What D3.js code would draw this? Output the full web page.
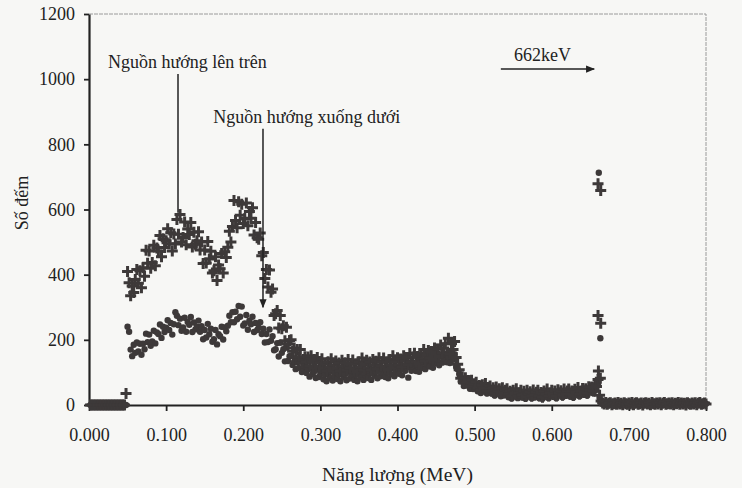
<!DOCTYPE html>
<html>
<head>
<meta charset="utf-8">
<script src="https://cdn.jsdelivr.net/npm/d3@7"></script>
<style>
  body { margin: 0; background: #f7f7f5; }
  svg { display: block; }
  text { font-family: "Liberation Serif", "Times New Roman", serif; fill: #222; }
</style>
</head>
<body>
<div id="chart"></div>
<script>
// channel calibration: channel n (1..400) sits at n * energyStep MeV
const energyStep = 0.002

// source facing up ("+" markers), 10 channels per row = 0.02 MeV
const upCounts = [
  0, 0, 0, 0, 0, 0, 0, 0, 0, 0,                      // 0.002 - 0.020
  0, 0, 0, 0, 0, 0, 0, 0, 0, 0,                      // 0.022 - 0.040
  0, 0, 0, 35, 410, 375, 335, 365, 345, 385,         // 0.042 - 0.060
  416, 374, 412, 360, 421, 395, 475, 435, 473, 420,  // 0.062 - 0.080
  437, 490, 427, 482, 473, 520, 455, 510, 483, 504,  // 0.082 - 0.100
  541, 495, 529, 473, 525, 494, 569, 524, 585, 500,  // 0.102 - 0.120
  514, 562, 492, 540, 523, 560, 485, 530, 493, 504,  // 0.122 - 0.140
  532, 476, 500, 434, 476, 436, 502, 448, 472, 405,  // 0.142 - 0.160
  412, 455, 382, 430, 418, 465, 405, 470, 453, 484,  // 0.162 - 0.180
  533, 500, 548, 628, 566, 544, 624, 582, 616, 557,  // 0.182 - 0.200
  572, 620, 550, 594, 573, 605, 522, 560, 513, 509,  // 0.202 - 0.220
  528, 458, 468, 388, 416, 362, 414, 346, 356, 275,  // 0.222 - 0.240
  280, 290, 236, 275, 234, 243, 197, 239, 187, 198,  // 0.242 - 0.260
  200, 165, 175, 146, 170, 148, 170, 129, 140, 148,  // 0.262 - 0.280
  132, 147, 120, 151, 131, 140, 115, 146, 118, 130,  // 0.282 - 0.300
  142, 112, 127, 104, 133, 116, 142, 106, 122, 135,  // 0.302 - 0.320
  112, 129, 104, 137, 119, 130, 107, 140, 114, 127,  // 0.322 - 0.340
  138, 109, 126, 103, 133, 116, 144, 108, 124, 137,  // 0.342 - 0.360
  114, 132, 107, 140, 123, 134, 111, 145, 119, 132,  // 0.362 - 0.380
  144, 115, 132, 109, 140, 123, 151, 115, 132, 145,  // 0.382 - 0.400
  123, 141, 117, 151, 134, 146, 124, 158, 133, 147,  // 0.402 - 0.420
  159, 131, 149, 127, 158, 142, 170, 135, 152, 167,  // 0.422 - 0.440
  145, 164, 140, 175, 158, 171, 149, 184, 160, 175,  // 0.442 - 0.460
  188, 161, 205, 157, 188, 170, 195, 146, 125, 108,  // 0.462 - 0.480
  82, 87, 68, 84, 70, 75, 59, 76, 59, 65,            // 0.482 - 0.500
  70, 52, 60, 45, 62, 51, 66, 44, 52, 58,            // 0.502 - 0.520
  43, 53, 37, 55, 43, 50, 35, 53, 38, 45,            // 0.522 - 0.540
  50, 33, 42, 28, 45, 35, 50, 29, 37, 45,            // 0.542 - 0.560
  31, 42, 26, 45, 34, 41, 27, 46, 31, 39,            // 0.562 - 0.580
  45, 28, 38, 24, 43, 33, 49, 28, 37, 45,            // 0.582 - 0.600
  32, 43, 28, 47, 37, 44, 30, 49, 35, 43,            // 0.602 - 0.620
  49, 33, 43, 29, 48, 38, 54, 34, 43, 51,            // 0.622 - 0.640
  38, 50, 36, 56, 46, 55, 43, 65, 57, 78,            // 0.642 - 0.660
  30, 12, 6, 3, 8, 2, 5, 7, 1, 4,                    // 0.662 - 0.680
  6, 2, 8, 3, 5, 1, 7, 4, 2, 6,
  3, 8, 1, 5, 7, 2, 4, 6, 0, 5,
  7, 3, 5, 1, 8, 4, 2, 6, 3, 7,
  1, 5, 8, 2, 4, 6, 3, 7, 1, 5,
  4, 8, 2, 6, 3, 5, 0, 7, 4, 2,
  6, 3, 7, 1, 5, 8, 2, 4, 6, 3                       // 0.782 - 0.800
]

// source facing down (dot markers), same channels
const downCounts = [
  0, 0, 0, 0, 0, 0, 0, 0, 0, 0,
  0, 0, 0, 0, 0, 0, 0, 0, 0, 0,
  0, 0, 0, 0, 240, 225, 170, 150, 185, 160,          // 0.042 - 0.060
  192, 164, 188, 154, 188, 171, 219, 193, 216, 182,
  195, 228, 189, 223, 218, 247, 206, 240, 224, 237,  // 0.082 - 0.100
  260, 230, 252, 216, 248, 285, 274, 245, 265, 228,
  238, 268, 225, 255, 246, 270, 224, 253, 232, 240,  // 0.122 - 0.140
  259, 225, 242, 202, 230, 207, 249, 217, 234, 194,
  202, 230, 186, 217, 211, 240, 201, 238, 226, 243,  // 0.162 - 0.180
  274, 254, 285, 254, 286, 263, 304, 271, 302, 244,
  250, 276, 231, 259, 248, 271, 224, 252, 230, 237,  // 0.202 - 0.220
  254, 218, 234, 192, 218, 193, 232, 197, 211, 168,
  171, 190, 149, 191, 160, 171, 134, 176, 135, 150,  // 0.242 - 0.260
  152, 123, 133, 110, 131, 114, 133, 101, 111, 119,
  98, 110, 87, 112, 95, 103, 83, 109, 86, 96,        // 0.282 - 0.300
  105, 79, 93, 73, 97, 83, 104, 75, 88, 99,
  80, 94, 73, 100, 85, 95, 76, 103, 81, 92,          // 0.322 - 0.340
  102, 77, 92, 73, 97, 84, 106, 77, 91, 102,
  83, 98, 77, 105, 90, 101, 82, 110, 88, 100,        // 0.362 - 0.380
  110, 86, 101, 82, 107, 94, 116, 88, 102, 114,
  96, 111, 91, 119, 105, 116, 84, 126, 105, 117,     // 0.402 - 0.420
  128, 104, 119, 102, 127, 114, 137, 110, 124, 136,
  118, 134, 114, 142, 129, 140, 122, 151, 130, 142,  // 0.442 - 0.460
  154, 131, 147, 129, 154, 139, 156, 117, 110, 96,
  72, 76, 58, 73, 60, 65, 50, 66, 49, 55,            // 0.482 - 0.500
  61, 42, 51, 37, 53, 42, 56, 35, 43, 50,
  35, 44, 29, 46, 35, 41, 27, 45, 29, 36,            // 0.522 - 0.540
  43, 24, 34, 20, 37, 26, 41, 21, 29, 37,
  23, 33, 19, 37, 27, 34, 21, 39, 24, 32,            // 0.562 - 0.580
  39, 21, 31, 19, 36, 26, 41, 21, 30, 39,
  25, 35, 21, 40, 30, 37, 24, 43, 28, 36,            // 0.602 - 0.620
  43, 26, 36, 23, 41, 31, 46, 27, 36, 44,
  31, 42, 29, 48, 39, 47, 36, 57, 47, 63,            // 0.642 - 0.660
  22, 8, 3, 5, 1, 6, 2, 4, 7, 3,
  4, 1, 6, 3, 7, 2, 5, 0, 4, 8,
  2, 6, 3, 5, 1, 7, 4, 2, 6, 3,
  5, 0, 7, 3, 4, 8, 1, 6, 2, 5,
  3, 7, 2, 4, 6, 1, 5, 8, 3, 0,
  6, 2, 5, 3, 7, 4, 1, 6, 2, 5,
  3, 6, 1, 4, 8, 2, 5, 3, 7, 4
]

// 662 keV photopeak channels (finer binning)
const upPeakEnergy = [0.6600, 0.6635, 0.6600, 0.6635, 0.6605, 0.6630]
const upPeakCounts = [679, 658, 275, 251, 104, 82]
const downPeakEnergy = [0.6610, 0.6630]
const downPeakCounts = [713, 205]

const xTicks = [0, 0.1, 0.2, 0.3, 0.4, 0.5, 0.6, 0.7, 0.8]
const yTicks = [0, 200, 400, 600, 800, 1000, 1200]

const width = 742
const height = 488
const margin = { top: 14, right: 36, bottom: 83, left: 89 }
const ink = "#3d3939"

const svg = d3.select("#chart").append("svg").attr("width", width).attr("height", height)

const x = d3.scaleLinear().domain([0, 0.8]).range([margin.left, width - margin.right])
const y = d3.scaleLinear().domain([0, 1200]).range([height - margin.bottom, margin.top])

const upPoints = upCounts.map((c, i) => ({ e: (i + 1) * energyStep, c }))
  .concat(upPeakEnergy.map((e, i) => ({ e, c: upPeakCounts[i] })))
const downPoints = downCounts.map((c, i) => ({ e: (i + 1) * energyStep, c }))
  .concat(downPeakEnergy.map((e, i) => ({ e, c: downPeakCounts[i] })))

// light frame top/right
svg.append("path")
  .attr("d", `M${x(0)},${y(1200)}H${x(0.8)}V${y(0)}`)
  .attr("fill", "none").attr("stroke", "#9a9a9a").attr("stroke-width", 1)
  .attr("stroke-dasharray", "4,1")

// axes
const yAxis = svg.append("g")
  .attr("transform", `translate(${margin.left},0)`)
  .call(d3.axisLeft(y).tickValues(yTicks).tickFormat(d3.format("d")).tickSize(5).tickSizeOuter(0).tickPadding(9))
const xAxis = svg.append("g")
  .attr("transform", `translate(0,${height - margin.bottom})`)
  .call(d3.axisBottom(x).tickValues(xTicks).tickFormat(d3.format(".3f")).tickSize(6).tickSizeOuter(0).tickPadding(17))

for (const g of [xAxis, yAxis]) {
  g.select(".domain").attr("stroke", "#222").attr("stroke-width", 2.2)
  g.selectAll(".tick line").attr("stroke", "#222").attr("stroke-width", 1.8)
  g.selectAll(".tick text").style("font-size", "18px").attr("fill", "#222")
}

// dots (source facing down)
svg.append("g").selectAll("circle")
  .data(downPoints).enter().append("circle")
  .attr("cx", d => x(d.e)).attr("cy", d => y(d.c))
  .attr("r", 3.2).attr("fill", ink)

// pluses (source facing up)
svg.append("g").selectAll("path")
  .data(upPoints).enter().append("path")
  .attr("transform", d => `translate(${x(d.e)},${y(d.c)})`)
  .attr("d", "M-5.5,0H5.5M0,-5.5V5.5")
  .attr("stroke", ink).attr("stroke-width", 3)

// annotations
svg.append("defs").append("marker")
  .attr("id", "arrow").attr("viewBox", "0 0 10 10").attr("refX", 9).attr("refY", 5)
  .attr("markerWidth", 6).attr("markerHeight", 6).attr("orient", "auto")
  .append("path").attr("d", "M0,1L10,5L0,9Z").attr("fill", "#222")

svg.append("text").attr("x", x(0.0246)).attr("y", y(1034)).style("font-size", "18px")
  .text("Nguồn hướng lên trên")
svg.append("line").attr("x1", x(0.1154)).attr("x2", x(0.1154)).attr("y1", y(1016)).attr("y2", y(590))
  .attr("stroke", "#222").attr("stroke-width", 1.5)

svg.append("text").attr("x", x(0.161)).attr("y", y(866)).style("font-size", "18px")
  .text("Nguồn hướng xuống dưới")
svg.append("line").attr("x1", x(0.2256)).attr("x2", x(0.2256)).attr("y1", y(848)).attr("y2", y(300))
  .attr("stroke", "#222").attr("stroke-width", 1.5).attr("marker-end", "url(#arrow)")

svg.append("text").attr("x", x(0.551)).attr("y", y(1056)).style("font-size", "18px")
  .text("662keV")
svg.append("line").attr("x1", x(0.534)).attr("x2", x(0.655)).attr("y1", y(1031)).attr("y2", y(1031))
  .attr("stroke", "#222").attr("stroke-width", 1.5).attr("marker-end", "url(#arrow)")

// axis titles
svg.append("text").attr("x", x(0.4)).attr("y", 481).attr("text-anchor", "middle")
  .style("font-size", "19.5px").text("Năng lượng (MeV)")
svg.append("text").attr("transform", "translate(28,203) rotate(-90)").attr("text-anchor", "middle")
  .style("font-size", "18px").text("Số đếm")
</script>
</body>
</html>
